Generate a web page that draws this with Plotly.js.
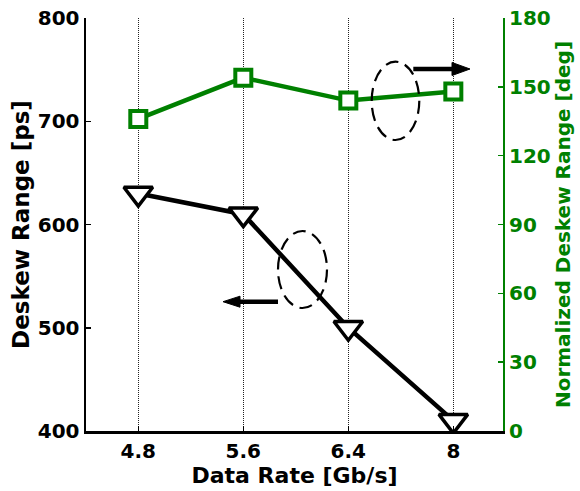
<!DOCTYPE html>
<html>
<head>
<meta charset="utf-8">
<script src="https://cdn.plot.ly/plotly-3.0.1.min.js"></script>
<style>
  html, body { margin: 0; padding: 0; background: #fff; }
  #chart { width: 580px; height: 491px; }
</style>
</head>
<body>
<div id="chart"></div>
<script>
// Deskew range versus data rate, in picoseconds (left) and degrees (right)
const rates = ['4.8', '5.6', '6.4', '8'];
const deskewPs = [630, 610, 500, 410];
const deskewDeg = [136, 154, 144, 148];

const psTicks = [400, 500, 600, 700, 800];
const degTicks = [0, 30, 60, 90, 120, 150, 180];

const GREEN = '#008000';
const FONT = 'DejaVu Sans, Arial, sans-serif';

const traces = [
  {
    x: rates, y: deskewPs, yaxis: 'y', type: 'scatter', mode: 'lines+markers',
    line: { color: '#000', width: 4.5 },
    marker: { symbol: 'triangle-down', size: 25, color: '#fff', line: { color: '#000', width: 3.5 } },
    hoverinfo: 'x+y'
  },
  {
    x: rates, y: deskewDeg, yaxis: 'y2', type: 'scatter', mode: 'lines+markers',
    line: { color: GREEN, width: 4.5 },
    marker: { symbol: 'square', size: 16, color: '#fff', line: { color: GREEN, width: 4 } },
    hoverinfo: 'x+y'
  }
];

// Paper-space helpers for the call-out ellipses and arrows
const L = 86, R = 503, T = 18, B = 431;
const px = v => (v - L) / (R - L);
const py = v => (B - v) / (B - T);

function arrow(x0, xBase, xTip, y, half) {
  return [
    { type: 'line', xref: 'paper', yref: 'paper', x0: px(x0), x1: px(xBase), y0: py(y), y1: py(y),
      line: { color: '#000', width: 4.5 } },
    { type: 'path', xref: 'paper', yref: 'paper',
      path: `M ${px(xBase)} ${py(y - half)} L ${px(xTip)} ${py(y)} L ${px(xBase)} ${py(y + half)} Z`,
      fillcolor: '#000', line: { color: '#000', width: 1 } }
  ];
}

const shapes = [
  { type: 'circle', xref: 'paper', yref: 'paper', x0: px(278), x1: px(327), y0: py(308), y1: py(231),
    line: { color: '#000', width: 2.2, dash: '13px,7px' } },
  { type: 'circle', xref: 'paper', yref: 'paper', x0: px(371.7), x1: px(419.3), y0: py(140), y1: py(61.7),
    line: { color: '#000', width: 2.2, dash: '13px,7px' } },
  ...arrow(278, 240, 223, 301.7, 5.5),
  ...arrow(413.3, 452, 470, 69, 6.5)
];

const tickFont = { family: FONT, size: 20, weight: 'bold', color: '#000' };

const layout = {
  width: 580, height: 491,
  margin: { l: L, r: 580 - R, t: T, b: 491 - B, pad: 0 },
  paper_bgcolor: '#fff', plot_bgcolor: '#fff',
  showlegend: false,
  font: { family: FONT },
  xaxis: {
    type: 'category', categoryorder: 'array', categoryarray: rates,
    range: [-0.498, 3.473],
    showline: true, linecolor: '#000', linewidth: 2.5,
    ticks: 'inside', ticklen: 5, tickwidth: 1.5, tickcolor: '#000',
    showgrid: true, gridcolor: '#222', gridwidth: 1, griddash: '1px,1px',
    zeroline: false,
    tickfont: tickFont,
    title: { text: 'Data Rate [Gb/s]', font: { family: FONT, size: 22, weight: 'bold', color: '#000' }, standoff: 6 }
  },
  yaxis: {
    range: [400, 800], tickvals: psTicks, ticktext: psTicks.map(String),
    showline: true, linecolor: '#000', linewidth: 2.5,
    ticks: 'inside', ticklen: 5, tickwidth: 1.5, tickcolor: '#000',
    showgrid: false, zeroline: false,
    tickfont: tickFont,
    title: { text: 'Deskew Range [ps]', font: { family: FONT, size: 23, weight: 'bold', color: '#000' }, standoff: 2 }
  },
  yaxis2: {
    overlaying: 'y', side: 'right',
    range: [0, 180], tickvals: degTicks, ticktext: degTicks.map(String),
    showline: true, linecolor: GREEN, linewidth: 2,
    ticks: 'inside', ticklen: 5, tickwidth: 1.5, tickcolor: GREEN,
    showgrid: false, zeroline: false,
    tickfont: Object.assign({}, tickFont, { color: GREEN }),
    title: { text: 'Normalized Deskew Range [deg]', font: { family: FONT, size: 20, weight: 'bold', color: GREEN }, standoff: 4 }
  },
  shapes: shapes
};

Plotly.newPlot('chart', traces, layout, { displayModeBar: false, staticPlot: true });
</script>
</body>
</html>
